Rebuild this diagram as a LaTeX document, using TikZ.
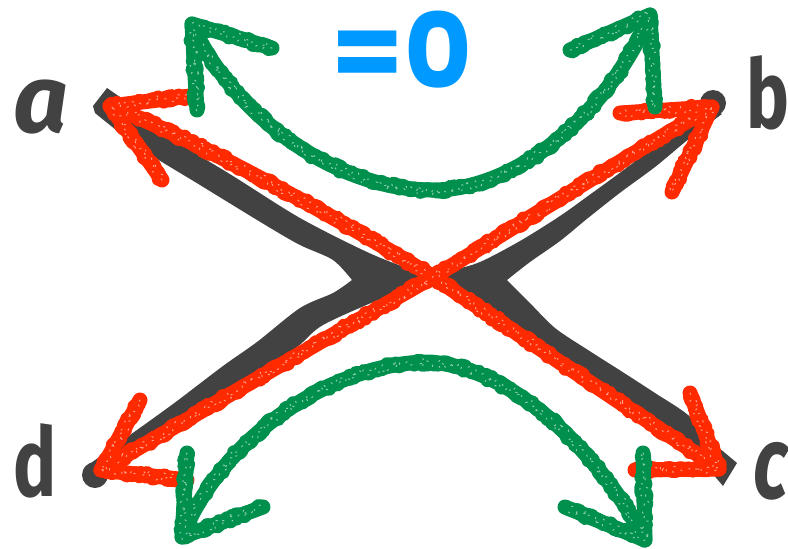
\documentclass[tikz,border=0pt]{standalone}
\usepackage{fontspec}
\setmainfont{Fira Sans}
\newfontfamily\popfont{Poppins}
\usetikzlibrary{decorations.pathmorphing}
\definecolor{ink}{HTML}{424242}
\definecolor{chalkred}{HTML}{FF2A00}
\definecolor{chalkgreen}{HTML}{00904E}
\definecolor{skyblue}{HTML}{0099FF}
\pgfmathsetseed{7}
\begin{document}
\begin{tikzpicture}[x=0.2pt,y=-0.2pt,
  redchalk/.style={draw=chalkred, line width=3.0pt, line cap=round, line join=round,
    postaction={draw=chalkred, line width=2.8pt, line cap=round, decorate,
      decoration={random steps, segment length=0.6pt, amplitude=0.5pt}},
    postaction={draw=white, line width=0.2pt, dash pattern=on 0.3pt off 1.6pt, opacity=0.55, decorate,
      decoration={random steps, segment length=0.4pt, amplitude=0.9pt}}},
  greenchalk/.style={draw=chalkgreen, line width=3.0pt, line cap=round, line join=round,
    postaction={draw=chalkgreen, line width=2.8pt, line cap=round, decorate,
      decoration={random steps, segment length=0.6pt, amplitude=0.5pt}},
    postaction={draw=white, line width=0.2pt, dash pattern=on 0.3pt off 1.6pt, opacity=0.55, decorate,
      decoration={random steps, segment length=0.4pt, amplitude=0.9pt}}},
  letter/.style={text=ink, inner sep=0pt, font=\fontsize{19.2}{19.2}\selectfont\bfseries},
]
\useasboundingbox (0,0) rectangle (788,548);

% ---------- dark shapes ----------
\fill[ink] (107,88) -- (120,97)
  -- plot[smooth, tension=0.5] coordinates {(120,97) (150,125) (233,176) (300,218) (367,252) (410,269) (445,279)}
  -- plot[smooth, tension=0.5] coordinates {(445,279) (410,289) (383,298) (323,325) (297,347) (257,372) (190,416) (123,460) (104,482)}
  -- (84,468)
  -- plot[smooth, tension=0.5] coordinates {(84,468) (123,440) (173,404) (223,366) (257,342) (300,308) (333,293) (352,280)}
  -- plot[smooth, tension=0.5] coordinates {(352,280) (333,260) (300,245) (267,226) (200,185) (140,148) (95,113)}
  -- (93,106) -- cycle;
\fill[ink] (95,475) circle[radius=13];

\fill[ink] plot[smooth, tension=0.5] coordinates {(425,279) (450,271) (480,262) (520,241) (560,216) (588,196) (621,172) (655,146) (690,118) (705,105)}
  -- (722,114)
  -- plot[smooth, tension=0.5] coordinates {(722,114) (690,138) (655,167) (621,192) (588,218) (560,241) (530,262) (507,280)}
  -- plot[smooth, tension=0.5] coordinates {(507,280) (528,301) (555,328) (588,350) (621,371) (655,393) (688,415) (712,442)}
  -- (737,463) -- (723,486)
  -- plot[smooth, tension=0.5] coordinates {(723,486) (690,449) (655,423) (621,400) (588,378) (555,355) (521,332) (500,315) (470,293) (450,285) (425,281)}
  -- cycle;
\fill[ink] (713,103) circle[radius=13];

% ---------- red arrows ----------
\coordinate (Ta) at (110,106);
\coordinate (Tb) at (712,107);
\coordinate (Tc) at (719,469);
\coordinate (Td) at (101,470);
\coordinate (X) at (433,277);
\coordinate (Ha1) at (190,96);  \coordinate (Ha2) at (162,180);
\coordinate (Hb1) at (620,113); \coordinate (Hb2) at (672,192);
\coordinate (Hc1) at (690,393); \coordinate (Hc2) at (635,470);
\coordinate (Hd1) at (140,400); \coordinate (Hd2) at (187,480);

\path[redchalk] (Ta) .. controls (170,128) and (330,212) .. (X) .. controls (530,342) and (640,416) .. (Tc);
\path[redchalk] (Tb) .. controls (620,160) and (520,224) .. (X) .. controls (330,336) and (200,412) .. (Td);
\path[redchalk] (Ha1) -- (Ta) -- (Ha2);
\path[redchalk] (Hb1) -- (Tb) -- (Hb2);
\path[redchalk] (Hc1) -- (Tc) -- (Hc2);
\path[redchalk] (Hd1) -- (Td) -- (Hd2);

% ---------- green arrows ----------
\coordinate (G1) at (192,24);
\coordinate (G2) at (650,15);
\coordinate (G3) at (182,537);
\coordinate (G4) at (645,540);
\coordinate (GT) at (433,190);
\coordinate (GB) at (430,362);
\path[greenchalk] (G1) .. controls (230,110) and (330,190) .. (GT) .. controls (520,190) and (610,110) .. (G2);
\path[greenchalk] (G3) .. controls (220,440) and (330,362) .. (GB) .. controls (530,370) and (615,480) .. (G4);
\path[greenchalk] (272,48) -- (G1) -- (197,110);
\path[greenchalk] (570,50) -- (G2) -- (655,107);
\path[greenchalk] (187,453) -- (G3) -- (263,507);
\path[greenchalk] (643,453) -- (G4) -- (565,507);

% ---------- labels ----------
\node[letter] (la) at (41,107) {\itshape a};
\node[letter] (lb) at (768,93) {\scalebox{0.75}[1]{b}};
\node[letter] (lc) at (771,471) {\fontsize{20.5}{20.5}\selectfont\itshape\scalebox{0.72}[1]{c}};
\node[letter] (ld) at (35,461) {\scalebox{0.75}[1]{d}};
\node[text=skyblue, inner sep=0pt, font=\popfont\bfseries\fontsize{20.8}{20.8}\selectfont] (eq) at (402,50) {=0};
\end{tikzpicture}
\end{document}
